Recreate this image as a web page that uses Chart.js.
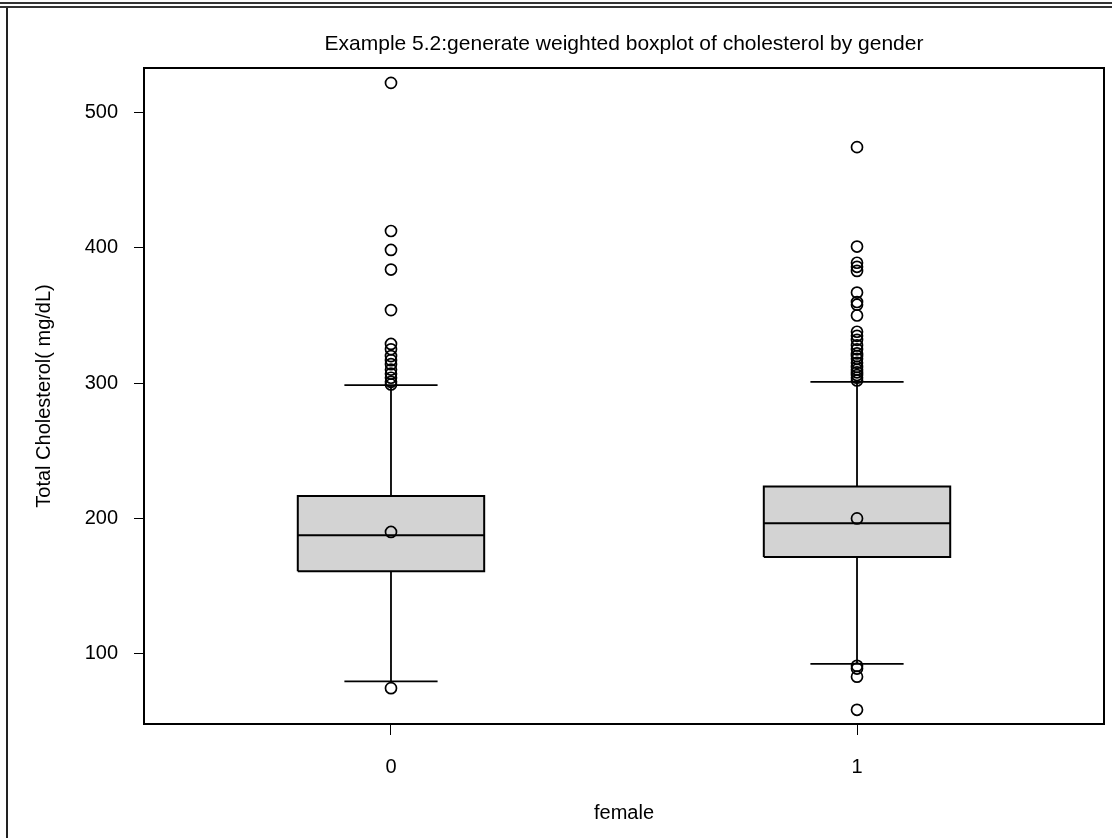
<!DOCTYPE html>
<html>
<head>
<meta charset="utf-8">
<title>Weighted boxplot of cholesterol by gender</title>
<script src="https://cdn.jsdelivr.net/npm/chart.js@4.4.0/dist/chart.umd.min.js"></script>
<style>
    html, body { margin: 0; padding: 0; background: #fff; }
    #wrap { position: relative; width: 1112px; height: 838px; }
    #frameTop { position: absolute; left: 0; top: 2px; width: 1112px; height: 2px; border-top: 2px solid #333; border-bottom: 2px solid #333; }
    #frameLeft { position: absolute; left: 6px; top: 8px; width: 2px; height: 830px; background: #222; }
</style>
</head>
<body>
<div id="wrap">
    <canvas id="boxCanvas" width="1112" height="838"></canvas>
    <div id="frameTop"></div>
    <div id="frameLeft"></div>
</div>
<script>
let categories = ['0', '1'];
let yTicks = [100, 200, 300, 400, 500];

let whiskerLow = [79.5, 92.5];
let q1 = [161, 171.5];
let median = [187.5, 196.5];
let q3 = [216.5, 223.5];
let whiskerHigh = [298.5, 301];
let means = [190, 200];

let outliers0 = [522, 412.5, 398.5, 384, 354, 329, 325, 320, 317, 314, 310, 307, 304, 301, 299, 74.5];
let outliers1 = [474.5, 401, 389, 386, 383, 367, 360, 358, 350, 338, 335, 332, 328, 325, 322, 320, 318,
    315, 312, 310, 308, 306, 304, 302, 91, 89, 83, 58.5];
let outliers = [outliers0, outliers1];

let boxHalf = 0.2;
let capHalf = 0.1;
let gap = {x: null, y: null};

Chart.defaults.font.family = '"Liberation Sans", Arial, sans-serif';
Chart.defaults.color = '#000';

let outlierPoints = [];
let meanPoints = [];
let medianLines = [];
let whiskerLines = [];
categories.forEach(function(c, i) {
    outliers[i].forEach(function(v) { outlierPoints.push({x: i, y: v}); });
    meanPoints.push({x: i, y: means[i]});
    medianLines.push({x: i - boxHalf, y: median[i]}, {x: i + boxHalf, y: median[i]}, gap);
    whiskerLines.push({x: i, y: whiskerLow[i]}, {x: i, y: q1[i]}, gap,
        {x: i, y: q3[i]}, {x: i, y: whiskerHigh[i]}, gap,
        {x: i - capHalf, y: whiskerLow[i]}, {x: i + capHalf, y: whiskerLow[i]}, gap,
        {x: i - capHalf, y: whiskerHigh[i]}, {x: i + capHalf, y: whiskerHigh[i]}, gap);
});

let circleStyle = {
    showLine: false,
    pointStyle: 'circle',
    pointRadius: 5.5,
    pointBorderWidth: 1.7,
    pointBorderColor: '#000',
    pointBackgroundColor: 'rgba(0,0,0,0)',
    order: 1
};

let datasets = [
    Object.assign({label: 'outliers', data: outlierPoints}, circleStyle),
    Object.assign({label: 'mean', data: meanPoints}, circleStyle),
    {label: 'median', data: medianLines, showLine: true, borderColor: '#000', borderWidth: 2, pointRadius: 0, order: 2},
    {label: 'whiskers', data: whiskerLines, showLine: true, borderColor: '#000', borderWidth: 1.8, pointRadius: 0, order: 2}
];

// one closed rectangle per box, filled with 'shape'
categories.forEach(function(c, i) {
    datasets.push({
        label: 'box ' + c,
        data: [
            {x: i - boxHalf, y: q1[i]}, {x: i + boxHalf, y: q1[i]},
            {x: i + boxHalf, y: q3[i]}, {x: i - boxHalf, y: q3[i]},
            {x: i - boxHalf, y: q1[i]}
        ],
        showLine: true,
        fill: 'shape',
        backgroundColor: '#d3d3d3',
        borderColor: '#000',
        borderWidth: 2,
        pointRadius: 0,
        tension: 0,
        order: 3
    });
});

let frameBox = {
    id: 'frameBox',
    afterDatasetsDraw: function(chart) {
        let a = chart.chartArea;
        let ctx = chart.ctx;
        ctx.save();
        ctx.strokeStyle = '#000';
        ctx.lineWidth = 2;
        ctx.strokeRect(a.left, a.top, a.right - a.left, a.bottom - a.top);
        ctx.restore();
    }
};

let ctx = document.getElementById('boxCanvas').getContext('2d');
let chart = new Chart(ctx, {
    type: 'scatter',
    data: {datasets: datasets},
    plugins: [frameBox],
    options: {
        responsive: false,
        animation: false,
        devicePixelRatio: 1,
        layout: {padding: {left: 0, top: 0, bottom: 0, right: 8}},
        plugins: {
            legend: {display: false},
            tooltip: {enabled: false}
        },
        scales: {
            x: {
                type: 'linear',
                position: 'bottom',
                min: -0.53,
                max: 1.53,
                afterBuildTicks: function(scale) {
                    scale.ticks = categories.map(function(c, i) { return {value: i}; });
                },
                afterFit: function(scale) { scale.height = 114; },
                ticks: {
                    callback: function(v) { return categories[v]; },
                    font: {size: 20},
                    color: '#000',
                    padding: 20,
                    maxRotation: 0
                },
                grid: {drawOnChartArea: false, tickLength: 11, color: '#000', lineWidth: 1},
                border: {color: '#000', width: 2},
                title: {display: true, text: 'female', font: {size: 20}, color: '#000', padding: {top: 0, bottom: 13}}
            },
            xTop: {
                type: 'linear',
                position: 'top',
                min: -0.53,
                max: 1.53,
                afterFit: function(scale) { scale.height = 68; },
                ticks: {display: false},
                grid: {display: false, drawTicks: false},
                border: {display: false},
                title: {
                    display: true,
                    text: 'Example 5.2:generate weighted boxplot of cholesterol by gender',
                    font: {size: 21},
                    color: '#000',
                    padding: {top: 32, bottom: 0}
                }
            },
            y: {
                min: 48,
                max: 533,
                afterBuildTicks: function(scale) {
                    scale.ticks = yTicks.map(function(v) { return {value: v}; });
                },
                afterFit: function(scale) { scale.width = 144; },
                ticks: {font: {size: 20}, color: '#000', padding: 16},
                grid: {drawOnChartArea: false, tickLength: 10, color: '#000', lineWidth: 1},
                border: {color: '#000', width: 2},
                title: {display: true, text: 'Total Cholesterol( mg/dL)', font: {size: 20}, color: '#000', padding: {top: 32, bottom: 0}}
            }
        }
    }
});
</script>
</body>
</html>
